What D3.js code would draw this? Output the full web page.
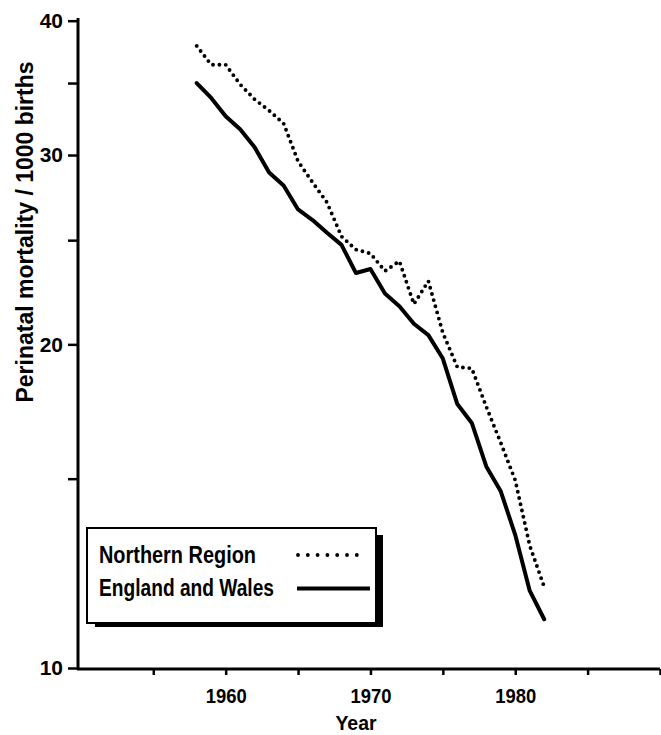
<!DOCTYPE html>
<html><head><meta charset="utf-8">
<script src="https://cdn.jsdelivr.net/npm/d3@7"></script>
<style>
body{margin:0;background:#fff}
svg{display:block}
text{font-family:"Liberation Sans",Arial,sans-serif;font-weight:bold;fill:#000}
</style>
</head><body>
<svg id="c" width="661" height="735"></svg>
<script>
// ---- data ----
const years = [1958,1959,1960,1961,1962,1963,1964,1965,1966,1967,1968,1969,1970,1971,1972,1973,1974,1975,1976,1977,1978,1979,1980,1981,1982];
const northernRegion = [37.9,36.4,36.4,34.9,33.8,33.0,32.1,29.6,28.3,27.1,25.2,24.5,24.3,23.4,23.9,21.8,22.9,20.5,19.05,19.0,17.5,16.2,14.95,13.0,11.9];
const englandWales = [35.0,33.9,32.6,31.7,30.5,28.9,28.1,26.7,26.1,25.4,24.75,23.3,23.5,22.3,21.7,20.9,20.4,19.4,17.6,16.9,15.4,14.6,13.3,11.8,11.1];
const yTickValues = [10,15,20,25,30,35,40];
const yTickLabels = [10,20,30,40];
const xTickValues = [1955,1960,1965,1970,1975,1980,1985,1990];
const xTickLabels = [1960,1970,1980];
const seriesNames = ["Northern Region","England and Wales"];
const xTitle = "Year";
const yTitle = "Perinatal mortality / 1000 births";

// ---- chart ----
const svg = d3.select("#c");
const x = d3.scaleLinear().domain([1949.8,1990]).range([78,660]);
const y = d3.scaleLog().domain([10,40]).range([668,20.7]);

// y axis
const yAxis = d3.axisLeft(y).tickValues(yTickValues)
  .tickFormat(d => yTickLabels.includes(d) ? d : "")
  .tickSize(10).tickSizeOuter(0).tickPadding(5);
const gy = svg.append("g").attr("transform","translate(78,0)").call(yAxis);
gy.select(".domain").attr("stroke-width",3).attr("d","M0,670V18");
gy.selectAll(".tick line").attr("stroke-width",2.5);
gy.selectAll(".tick text").attr("font-size",21).style("font-family",'"Liberation Sans",Arial,sans-serif');

// x axis
const xAxis = d3.axisBottom(x).tickValues(xTickValues)
  .tickFormat(d => xTickLabels.includes(d) ? d : "")
  .tickSize(6).tickSizeOuter(0).tickPadding(13);
const gx = svg.append("g").attr("transform","translate(0,669)").call(xAxis);
gx.select(".domain").attr("stroke-width",3).attr("d","M77,0H660");
gx.selectAll(".tick line").attr("stroke-width",2.5);
gx.selectAll(".tick text").attr("font-size",21)
  .style("font-family",'"Liberation Sans",Arial,sans-serif')
  .attr("textLength", d => xTickLabels.includes(d) ? 41 : null)
  .attr("lengthAdjust","spacingAndGlyphs");

// titles
svg.append("text").attr("x",356).attr("y",730).attr("text-anchor","middle")
  .attr("font-size",20).attr("textLength",41).attr("lengthAdjust","spacingAndGlyphs").text(xTitle);
svg.append("text").attr("transform","translate(33,232) rotate(-90)").attr("text-anchor","middle")
  .attr("font-size",23).attr("textLength",341).attr("lengthAdjust","spacingAndGlyphs").text(yTitle);

// lines
const line = d3.line().x(d => x(d[0])).y(d => y(d[1]));
svg.append("path").datum(years.map((yr,i)=>[yr,northernRegion[i]]))
  .attr("d",line).attr("fill","none").attr("stroke","#000")
  .attr("stroke-width",3.9).attr("stroke-linecap","round").attr("stroke-dasharray","0,6.4");
svg.append("path").datum(years.map((yr,i)=>[yr,englandWales[i]]))
  .attr("d",line).attr("fill","none").attr("stroke","#000")
  .attr("stroke-width",4).attr("stroke-linejoin","round").attr("stroke-linecap","round");

// legend
const lg = svg.append("g");
lg.append("rect").attr("x",95).attr("y",535).attr("width",288).attr("height",92).attr("fill","#000");
lg.append("rect").attr("x",87).attr("y",528).attr("width",289).attr("height",95)
  .attr("fill","#fff").attr("stroke","#000").attr("stroke-width",2);
lg.append("text").attr("x",99).attr("y",562.5).attr("font-size",23)
  .attr("textLength",157).attr("lengthAdjust","spacingAndGlyphs").text(seriesNames[0]);
lg.append("text").attr("x",99).attr("y",596).attr("font-size",23)
  .attr("textLength",175).attr("lengthAdjust","spacingAndGlyphs").text(seriesNames[1]);
lg.append("line").attr("x1",298).attr("x2",358).attr("y1",555).attr("y2",555)
  .attr("stroke","#000").attr("stroke-width",3.9).attr("stroke-linecap","round").attr("stroke-dasharray","0,9.8");
lg.append("line").attr("x1",297).attr("x2",370).attr("y1",588.5).attr("y2",588.5)
  .attr("stroke","#000").attr("stroke-width",4);
</script>
</body></html>
